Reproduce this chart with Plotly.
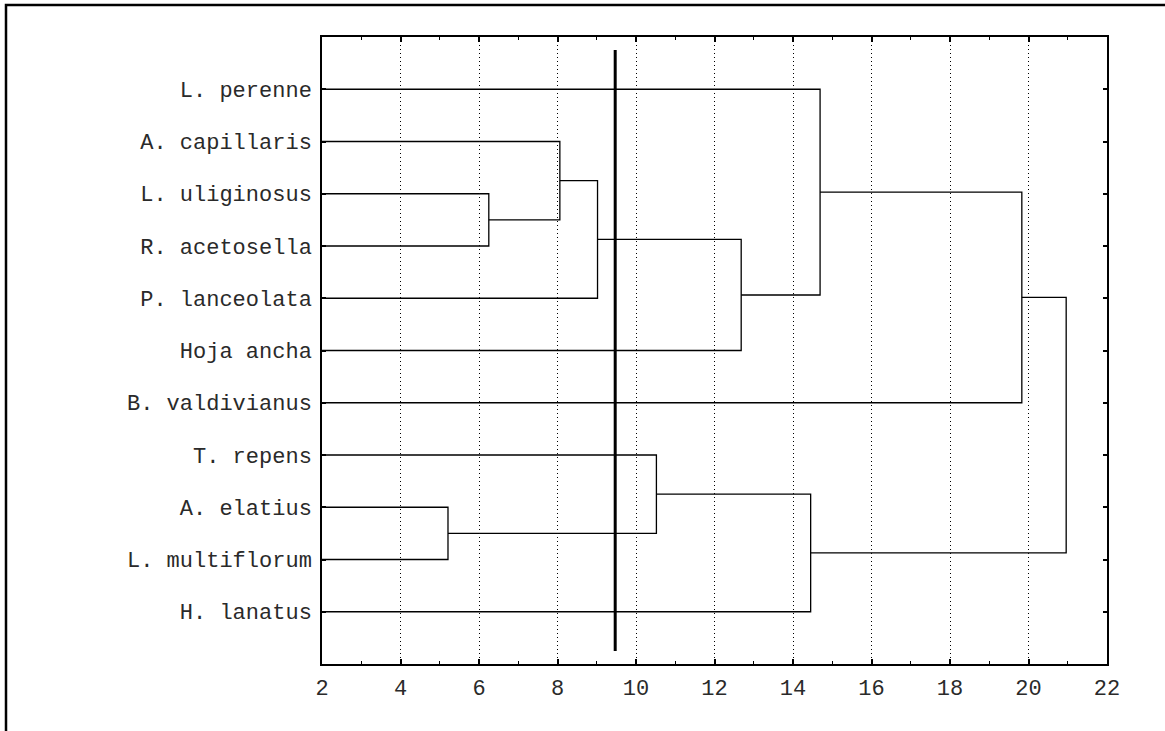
import plotly.graph_objects as go

# Leaves, top to bottom
leaves = ["L. perenne", "A. capillaris", "L. uliginosus", "R. acetosella",
          "P. lanceolata", "Hoja ancha", "B. valdivianus", "T. repens",
          "A. elatius", "L. multiflorum", "H. lanatus"]

# Agglomeration steps: (member A, member B, linkage distance).
# Members are leaf names or the index of an earlier step ("#k").
merges = [
    ("A. elatius", "L. multiflorum", 5.21),
    ("L. uliginosus", "R. acetosella", 6.25),
    ("A. capillaris", "#1", 8.06),
    ("#2", "P. lanceolata", 9.02),
    ("T. repens", "#0", 10.52),
    ("#3", "Hoja ancha", 12.68),
    ("#4", "H. lanatus", 14.45),
    ("L. perenne", "#5", 14.69),
    ("#7", "B. valdivianus", 19.83),
    ("#8", "#6", 20.96),
]

cut_distance = 9.47
x_ticks = list(range(2, 23, 2))

n = len(leaves)
leaf_y = {name: n - i for i, name in enumerate(leaves)}
x_min = 2

pos = {}
for name in leaves:
    pos[name] = (x_min, leaf_y[name])

xs, ys = [], []
for k, (a, b, h) in enumerate(merges):
    xa, ya = pos[a]
    xb, yb = pos[b]
    xs += [xa, h, h, xb, None]
    ys += [ya, ya, yb, yb, None]
    pos[f"#{k}"] = (h, (ya + yb) / 2)

font_family = "Courier New, Liberation Mono, Cousine, monospace"

fig = go.Figure()
fig.add_trace(go.Scatter(x=xs, y=ys, mode="lines",
                         line=dict(color="black", width=1.3),
                         hoverinfo="skip", showlegend=False))
fig.add_trace(go.Scatter(x=[cut_distance, cut_distance], y=[0.25, n + 0.75],
                         mode="lines", line=dict(color="black", width=3),
                         hoverinfo="skip", showlegend=False))

L, R, T, B = 322, 58, 37, 67
W, H = 1165, 731
pw, ph = W - L - R, H - T - B

fig.update_layout(
    width=W, height=H,
    margin=dict(l=L, r=R, t=T, b=B, pad=0),
    paper_bgcolor="white", plot_bgcolor="white",
    font=dict(family=font_family, size=22, color="black"),
    showlegend=False,
    shapes=[dict(type="rect", xref="paper", yref="paper",
                 x0=(6 - L) / pw, x1=(W + 20 - L) / pw,
                 y0=-(H + 20 - T - ph) / ph, y1=(H - B - 5) / ph,
                 line=dict(color="black", width=2.5), fillcolor="rgba(0,0,0,0)",
                 layer="below")],
)

fig.update_xaxes(
    range=[2, 22], tickvals=x_ticks, ticktext=[str(v) for v in x_ticks],
    showline=True, linecolor="black", linewidth=1.5, mirror="ticks",
    ticks="inside", ticklen=5, tickcolor="black", tickwidth=1.5,
    minor=dict(dtick=1, tick0=0, ticks="inside", ticklen=3,
               tickcolor="black", tickwidth=1.2, showgrid=False),
    showgrid=True, gridcolor="black", griddash="1px,3px", gridwidth=1.2,
    zeroline=False, ticklabelstandoff=3,
    tickfont=dict(family=font_family, size=22, color="#2a2a2a"),
)
fig.update_yaxes(
    range=[0, n + 1], tickvals=[leaf_y[nm] for nm in leaves], ticktext=leaves,
    showline=True, linecolor="black", linewidth=1.5, mirror="ticks",
    ticks="inside", ticklen=4, tickcolor="black", tickwidth=1.5,
    showgrid=False, zeroline=False, ticklabelstandoff=4,
    tickfont=dict(family=font_family, size=22, color="#2a2a2a"),
)

fig.write_html("out.html")
